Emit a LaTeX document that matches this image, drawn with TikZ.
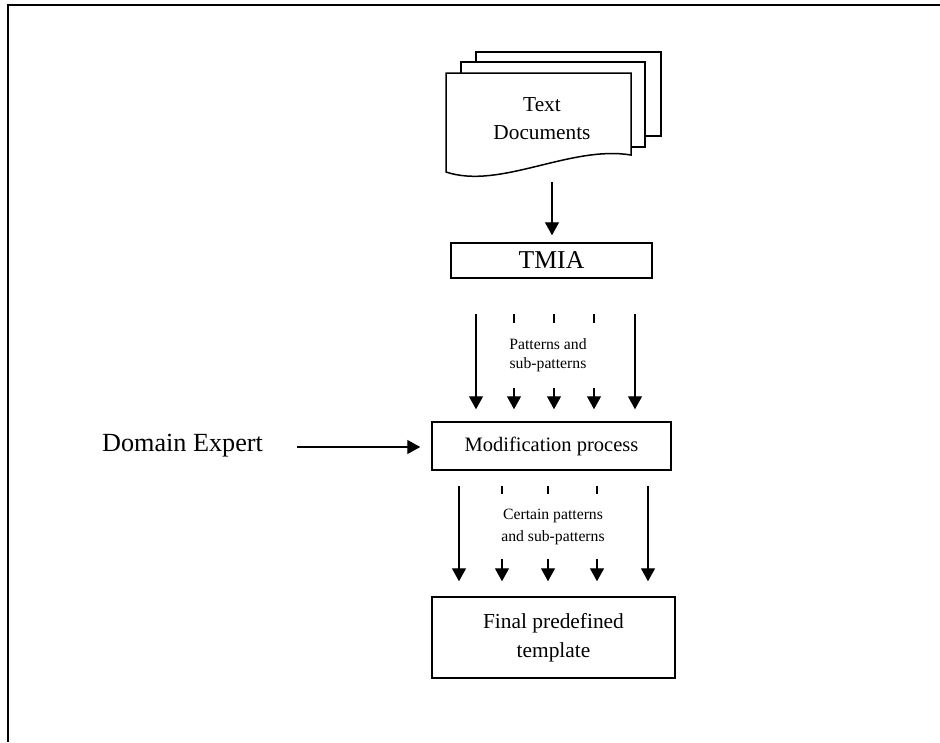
\documentclass[tikz,border=0pt]{standalone}
\usepackage{fontspec}
\setmainfont{Liberation Serif}
\usetikzlibrary{arrows.meta,calc}
\tikzset{
  arr/.style={line width=1.4pt,-{Triangle[length=13pt,width=14pt]}},
  tick/.style={line width=1.4pt},
  procbox/.style={draw,line width=1.5pt,inner sep=0pt,align=center},
  sheet/.style={draw,line width=1.5pt,fill=white,line join=miter},
  lbl/.style={inner sep=0pt,align=center}
}
\begin{document}
\begin{tikzpicture}[x=1pt,y=-1pt]
\useasboundingbox[fill=white] (0,0) rectangle (940,742);
% frame
\draw[line width=2pt] (8,742) -- (8,5) -- (940,5);
% document stack
\draw[sheet] (476,52) rectangle (661,136);
\draw[sheet] (461,62) rectangle (645,147);
\draw[sheet] (446,73) -- (631,73) -- (631,155) .. controls (570,145) and (500,190) .. (446,172) -- cycle;
\node[lbl,font=\fontsize{21.3}{28}\selectfont] (docs) at (542,119) {Text\\Documents};
\coordinate (dbot) at (552,182);
% boxes
\node[procbox,minimum width=201pt,minimum height=35pt,font=\fontsize{25.7}{30}\selectfont] (tmia) at (551.5,260.5) {TMIA};
\node[procbox,minimum width=239pt,minimum height=48pt,font=\fontsize{20.5}{25}\selectfont] (mod) at (551.5,446) {Modification process};
\node[procbox,minimum width=243pt,minimum height=81pt,font=\fontsize{21.4}{29}\selectfont] (fin) at (553.5,637.5) {Final predefined\\template};
\node[lbl,font=\fontsize{26.2}{30}\selectfont] (de) at (182.5,446) {Domain Expert};
% labels
\node[lbl,font=\fontsize{15.7}{19}\selectfont] (pl1) at (548,355) {Patterns and\\sub-patterns};
\node[lbl,font=\fontsize{15.7}{22}\selectfont] (pl2) at (553,527) {Certain patterns\\and sub-patterns};
% connectors
\draw[arr,shorten >=7pt] (dbot) -- (dbot |- tmia.north);
\draw[arr,shorten >=11pt] ($(de.east |- mod.west)+(34,1)$) -- ($(mod.west)+(0,1)$);
% upper arrows
\foreach \x in {476,635}
  \draw[arr] ($(tmia.south -| \x,0)+(0,35)$) -- ($(mod.north -| \x,0)+(0,-12)$);
\foreach \x in {514,554,594}{
  \draw[tick] ($(tmia.south -| \x,0)+(0,35)$) -- ($(tmia.south -| \x,0)+(0,44)$);
  \draw[arr] ($(mod.north -| \x,0)+(0,-33)$) -- ($(mod.north -| \x,0)+(0,-12)$);
}
% lower arrows
\foreach \x in {459,648}
  \draw[arr] ($(mod.south -| \x,0)+(0,15)$) -- ($(fin.north -| \x,0)+(0,-15)$);
\foreach \x in {502,548,597}{
  \draw[tick] ($(mod.south -| \x,0)+(0,15)$) -- ($(mod.south -| \x,0)+(0,23)$);
  \draw[arr] ($(fin.north -| \x,0)+(0,-37)$) -- ($(fin.north -| \x,0)+(0,-15)$);
}
\end{tikzpicture}
\end{document}
